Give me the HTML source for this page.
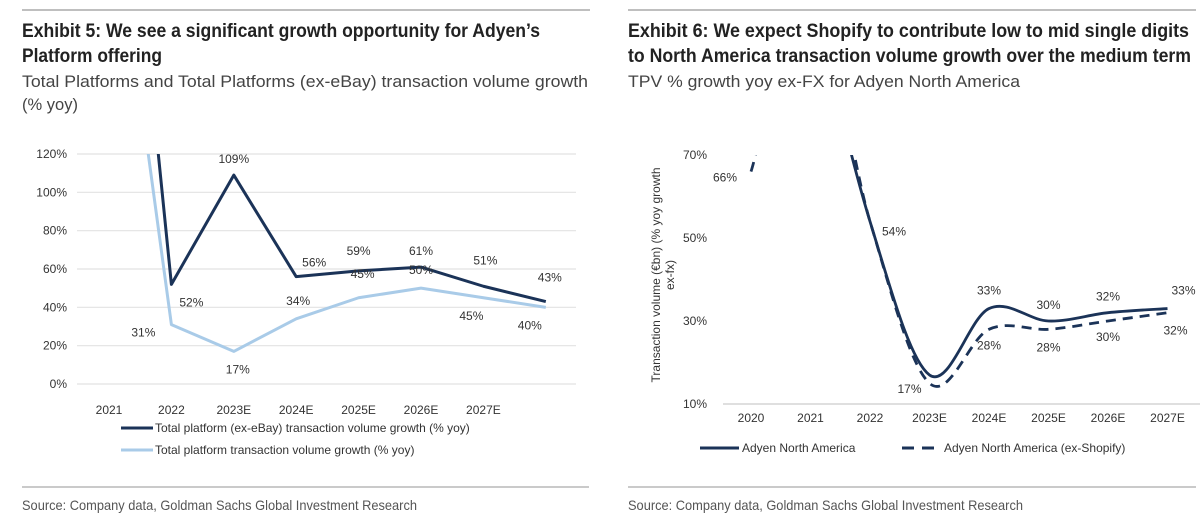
<!DOCTYPE html>
<html><head><meta charset="utf-8"><style>
body{margin:0;background:#fff;}
svg{display:block;font-family:"Liberation Sans",sans-serif;}
.t{font-family:"Liberation Sans Narrow","Liberation Sans",sans-serif;font-weight:bold;font-size:19px;fill:#222;}
.s{font-family:"Liberation Sans Narrow","Liberation Sans",sans-serif;font-size:17px;fill:#444;}
.src{font-family:"Liberation Sans Narrow","Liberation Sans",sans-serif;font-size:14px;fill:#555;}
.tk{font-size:12px;fill:#333;}
.lb{font-size:12px;fill:#333;text-anchor:middle;}
</style></head><body>
<svg id="svg" width="1200" height="524" viewBox="0 0 1200 524">
<line x1="22" y1="10" x2="590" y2="10" stroke="#aaa" stroke-width="1.5"/>
<line x1="628" y1="10" x2="1196" y2="10" stroke="#aaa" stroke-width="1.5"/>
<text class="t" x="22" y="37" textLength="518" lengthAdjust="spacingAndGlyphs">Exhibit 5: We see a significant growth opportunity for Adyen’s</text>
<text class="t" x="22" y="62" textLength="140" lengthAdjust="spacingAndGlyphs">Platform offering</text>
<text class="s" x="22" y="87" textLength="566" lengthAdjust="spacingAndGlyphs">Total Platforms and Total Platforms (ex-eBay) transaction volume growth</text>
<text class="s" x="22" y="110" textLength="56" lengthAdjust="spacingAndGlyphs">(% yoy)</text>
<text class="t" x="628" y="37" textLength="561" lengthAdjust="spacingAndGlyphs">Exhibit 6: We expect Shopify to contribute low to mid single digits</text>
<text class="t" x="628" y="62" textLength="563" lengthAdjust="spacingAndGlyphs">to North America transaction volume growth over the medium term</text>
<text class="s" x="628" y="87" textLength="392" lengthAdjust="spacingAndGlyphs">TPV % growth yoy ex-FX for Adyen North America</text>
<line x1="22" y1="487" x2="589" y2="487" stroke="#aaa" stroke-width="1.2"/>
<line x1="628" y1="487" x2="1196" y2="487" stroke="#aaa" stroke-width="1.2"/>
<text class="src" x="22" y="510" textLength="395" lengthAdjust="spacingAndGlyphs">Source: Company data, Goldman Sachs Global Investment Research</text>
<text class="src" x="628" y="510" textLength="395" lengthAdjust="spacingAndGlyphs">Source: Company data, Goldman Sachs Global Investment Research</text>
<defs>
<clipPath id="c1"><rect x="60" y="154" width="530" height="240"/></clipPath>
<clipPath id="c2"><rect x="700" y="155" width="500" height="260"/></clipPath>
</defs>
<g id="g1"></g>
<g id="g2"></g>
</svg>
<script>
// Left chart data
const leftCats = ["2021","2022","2023E","2024E","2025E","2026E","2027E"];
const leftExEbay = [376,52,109,56,59,61,51,43];
const leftTotal = [271,31,17,34,45,50,45,40];
const leftExEbayLabels = [null,"52%","109%","56%","59%","61%","51%","43%"];
const leftTotalLabels = [null,"31%","17%","34%","45%","50%","45%","40%"];
const leftTicks = [0,20,40,60,80,100,120];
// Right chart data
const rightCats = ["2020","2021","2022","2023E","2024E","2025E","2026E","2027E"];
const rightNA = [null,110,54,17,33,30,32,33];
const rightExShop = [66,110,54,15,28,28,30,32];
const rightNALabels = [null,null,"54%","17%","33%","30%","32%","33%"];
const rightExShopLabels = ["66%",null,null,null,"28%","28%","30%","32%"];
const rightTicks = [10,30,50,70];

const NS="http://www.w3.org/2000/svg";
function mk(p,tag,attrs){const e=document.createElementNS(NS,tag);for(const k in attrs)e.setAttribute(k,attrs[k]);p.appendChild(e);return e;}

// LEFT
const g1=document.getElementById('g1');
const lx=i=>109+62.4*i, ly=v=>384-v*(230/120);
leftTicks.forEach(t=>{
  const l=mk(g1,'line',{x1:77,x2:576,y1:ly(t),y2:ly(t),stroke:'#e2e2e2','stroke-width':1.2});
  
  
  const tx=mk(g1,'text',{x:67,y:ly(t)+4,class:'tk','text-anchor':'end'});tx.textContent=t+'%';
  
  
});
leftCats.forEach((c,i)=>{
  const tx=mk(g1,'text',{x:lx(i),y:414,class:'lb'});tx.textContent=c;
  
  
});
function poly(p,arr,xf,yf,col,w,clip,name,dash){
  const pts=arr.map((v,i)=>v==null?null:[xf(i),yf(v)]).filter(Boolean);
  const e=mk(p,'polyline',{points:pts.map(q=>q.join(',')).join(' '),fill:'none',stroke:col,'stroke-width':w,'clip-path':'url(#'+clip+')','stroke-linejoin':'round'});
  if(dash)e.setAttribute('stroke-dasharray',dash);
  
  
}
poly(g1,leftTotal,lx,ly,'#a9cbe8',3,'c1','total-platform-line');
poly(g1,leftExEbay,lx,ly,'#1b3358',3,'c1','ex-ebay-line');
const exOff=[[0,0],[20,22],[0,-12],[18,-10],[0,-16],[0,-12],[2,-22],[4,-20]];
const totOff=[[0,0],[-28,12],[4,22],[2,-14],[4,-20],[0,-14],[-12,22],[-16,22]];
leftExEbay.forEach((v,i)=>{if(!leftExEbayLabels[i])return;
  const tx=mk(g1,'text',{x:lx(i)+exOff[i][0],y:ly(v)+exOff[i][1],class:'lb'});tx.textContent=leftExEbayLabels[i];
  
  });
leftTotal.forEach((v,i)=>{if(!leftTotalLabels[i])return;
  const tx=mk(g1,'text',{x:lx(i)+totOff[i][0],y:ly(v)+totOff[i][1],class:'lb'});tx.textContent=leftTotalLabels[i];
  
  });
[['#1b3358','Total platform (ex-eBay) transaction volume growth (% yoy)',428,'legend-ex-ebay'],['#a9cbe8','Total platform transaction volume growth (% yoy)',450,'legend-total']].forEach(d=>{
  const gg=mk(g1,'g',{});
  
  
  mk(gg,'line',{x1:121,x2:153,y1:d[2],y2:d[2],stroke:d[0],'stroke-width':3});
  const t=mk(gg,'text',{x:155,y:d[2]+4,class:'tk'});t.textContent=d[1];
});

// RIGHT
const g2=document.getElementById('g2');
const rx=i=>751+59.5*i, ry=v=>404-(v-10)*(249/60);
mk(g2,'line',{x1:723,x2:1200,y1:404,y2:404,stroke:'#ccc','stroke-width':1.2});
rightTicks.forEach(t=>{
  const tx=mk(g2,'text',{x:707,y:ry(t)+4,class:'tk','text-anchor':'end'});tx.textContent=t+'%';
  
  
});
rightCats.forEach((c,i)=>{
  const tx=mk(g2,'text',{x:rx(i),y:422,class:'lb'});tx.textContent=c;
  
  
});
const yt=mk(g2,'text',{transform:'translate(660,275) rotate(-90)','text-anchor':'middle',class:'tk'});


mk(yt,'tspan',{x:0,dy:0}).textContent='Transaction volume (€bn) (% yoy growth';
mk(yt,'tspan',{x:0,dy:14}).textContent='ex-fx)';
function smooth(p,arr,col,dash,name){
  const pts=[];arr.forEach((v,i)=>{if(v!=null)pts.push([rx(i),ry(v)]);});
  let d='M'+pts[0].join(',');
  for(let i=0;i<pts.length-1;i++){
    const p0=pts[i-1]||pts[i],p1=pts[i],p2=pts[i+1],p3=pts[i+2]||p2;
    const c1=[p1[0]+(p2[0]-p0[0])/6,p1[1]+(p2[1]-p0[1])/6],c2=[p2[0]-(p3[0]-p1[0])/6,p2[1]-(p3[1]-p1[1])/6];
    d+=' C'+c1.join(',')+' '+c2.join(',')+' '+p2.join(',');
  }
  const e=mk(p,'path',{d:d,fill:'none',stroke:col,'stroke-width':2.8,'clip-path':'url(#c2)'});
  if(dash)e.setAttribute('stroke-dasharray',dash);
  
  
}
smooth(g2,rightExShop,'#1b3358','10,7','ex-shopify-line');
smooth(g2,rightNA,'#1b3358',null,'north-america-line');
const naOff=[[0,0],[0,0],[24,14],[-20,18],[0,-14],[0,-12],[0,-12],[16,-14]];
const esOff=[[-26,10],[0,0],[0,0],[0,0],[0,20],[0,22],[0,20],[8,22]];
rightNA.forEach((v,i)=>{if(!rightNALabels[i])return;
  const tx=mk(g2,'text',{x:rx(i)+naOff[i][0],y:ry(v)+naOff[i][1],class:'lb'});tx.textContent=rightNALabels[i];
  
  });
rightExShop.forEach((v,i)=>{if(!rightExShopLabels[i])return;
  const tx=mk(g2,'text',{x:rx(i)+esOff[i][0],y:ry(v)+esOff[i][1],class:'lb'});tx.textContent=rightExShopLabels[i];
  
  });
const lg1=mk(g2,'g',{});


mk(lg1,'line',{x1:700,x2:739,y1:448,y2:448,stroke:'#1b3358','stroke-width':3});
mk(lg1,'text',{x:742,y:452,class:'tk'}).textContent='Adyen North America';
const lg2=mk(g2,'g',{});


mk(lg2,'line',{x1:902,x2:941,y1:448,y2:448,stroke:'#1b3358','stroke-width':3,'stroke-dasharray':'12,8'});
mk(lg2,'text',{x:944,y:452,class:'tk'}).textContent='Adyen North America (ex-Shopify)';
</script>
</body></html>
